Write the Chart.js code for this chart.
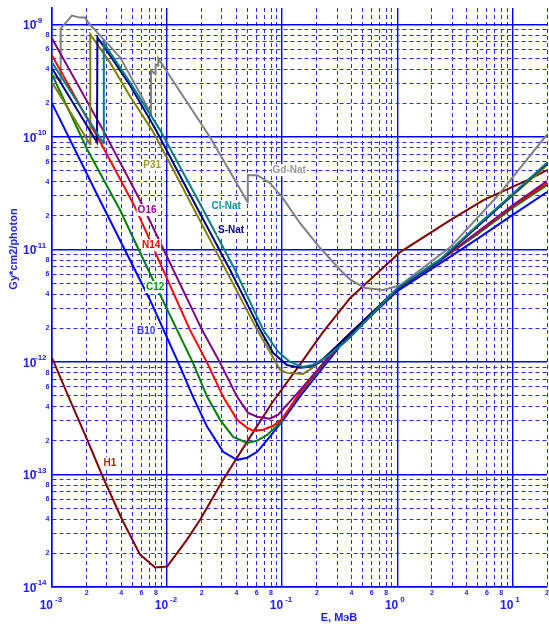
<!DOCTYPE html>
<html><head><meta charset="utf-8">
<script src="https://cdn.jsdelivr.net/npm/chart.js@4.4.1/dist/chart.umd.min.js"></script>
<style>html,body{margin:0;padding:0;background:#fff}canvas{display:block}</style>
</head><body>
<canvas id="chart" width="549" height="624"></canvas>
<script>
// photon energy, MeV  /  dose per photon, Gy*cm2/photon
const h1E = [1e-3, 1.43e-3, 2.02e-3, 2.78e-3, 4.06e-3, 5.82e-3, 7.87e-3, 1.0e-2, 1.49e-2, 1.94e-2, 3.07e-2, 5.27e-2, 8.18e-2, 0.144, 0.227, 0.39, 1.06, 2.89, 5.6, 13.5, 20];
const h1V = [1.09e-12, 4.6e-13, 2.04e-13, 9.4e-14, 3.98e-14, 1.94e-14, 1.49e-14, 1.52e-14, 2.64e-14, 3.98e-14, 8.99e-14, 2.16e-13, 4.34e-13, 9.62e-13, 1.85e-12, 3.71e-12, 9.48e-12, 1.82e-11, 2.74e-11, 4.13e-11, 5.07e-11];

const b10E = [1e-3, 2.61e-3, 7.11e-3, 1.30e-2, 1.68e-2, 2.23e-2, 3.07e-2, 4.06e-2, 4.97e-2, 6.07e-2, 7.8e-2, 0.102, 0.144, 0.339, 1.0, 2.37, 4.97, 10, 20];
const b10V = [1.99e-10, 2.74e-11, 3.56e-12, 9.05e-13, 4.9e-13, 2.65e-13, 1.59e-13, 1.35e-13, 1.41e-13, 1.59e-13, 2.16e-13, 3.06e-13, 5.0e-13, 1.5e-12, 4.27e-12, 7.57e-12, 1.24e-11, 2.02e-11, 3.23e-11];

const c12E = [1e-3, 2.02e-3, 3.9e-3, 7.55e-3, 1.22e-2, 1.68e-2, 2.23e-2, 2.89e-2, 3.75e-2, 4.97e-2, 6.07e-2, 7.41e-2, 9.6e-2, 0.144, 0.339, 1.0, 2.37, 4.97, 10, 20];
const c12V = [3.6e-10, 7.78e-11, 2.24e-11, 5.35e-12, 1.93e-12, 9.82e-13, 4.9e-13, 3.06e-13, 2.16e-13, 1.91e-13, 2.0e-13, 2.25e-13, 2.88e-13, 5.32e-13, 1.57e-12, 4.45e-12, 8.05e-12, 1.37e-11, 2.33e-11, 3.73e-11];

const n14E = [1e-3, 2.78e-3, 5.27e-3, 1.58e-2, 2.23e-2, 3.07e-2, 4.06e-2, 4.97e-2, 5.58e-2, 6.84e-2, 8.36e-2, 0.1, 0.144, 0.339, 1.0, 2.37, 4.97, 10, 20];
const n14V = [5.31e-10, 8.1e-11, 2.38e-11, 1.93e-12, 9.82e-13, 4.9e-13, 3.06e-13, 2.6e-13, 2.45e-13, 2.5e-13, 2.71e-13, 3.13e-13, 5.43e-13, 1.57e-12, 4.45e-12, 8.05e-12, 1.4e-11, 2.4e-11, 3.88e-11];

const o16E = [1e-3, 2.78e-3, 5.82e-3, 2.01e-2, 2.89e-2, 4.06e-2, 5.06e-2, 6.07e-2, 7.8e-2, 9.23e-2, 0.110, 0.144, 0.339, 1.0, 2.37, 4.97, 10, 20];
const o16V = [7.51e-10, 1.15e-10, 2.74e-11, 1.93e-12, 9.82e-13, 4.9e-13, 3.53e-13, 3.26e-13, 3.13e-13, 3.4e-13, 4.16e-13, 5.65e-13, 1.57e-12, 4.45e-12, 8.05e-12, 1.43e-11, 2.45e-11, 4.05e-11];

const p31E = [1e-3, 2.14e-3, 2.15e-3, 3.19e-3, 4.76e-3, 7.41e-3, 1.08e-2, 2.37e-2, 6.07e-2, 9.6e-2, 0.110, 0.152, 0.183, 0.261, 0.339, 1.0, 2.37, 4.97, 10, 20];
const p31V = [3.06e-10, 8.6e-11, 8.15e-10, 4.6e-10, 2.3e-10, 1.15e-10, 5.61e-11, 1.21e-11, 1.93e-12, 8.5e-13, 8.0e-13, 7.83e-13, 8.86e-13, 1.19e-12, 1.57e-12, 4.45e-12, 8.05e-12, 1.6e-11, 3.0e-11, 5.61e-11];

const sE = [1e-3, 2.46e-3, 2.48e-3, 3.19e-3, 4.76e-3, 7.87e-3, 1.68e-2, 3.53e-2, 6.44e-2, 8.36e-2, 0.110, 0.144, 0.175, 0.213, 0.339, 1.0, 2.37, 4.97, 10, 20];
const sV = [4.07e-10, 8.97e-11, 7.67e-10, 5.31e-10, 2.88e-10, 1.19e-10, 2.74e-11, 6.56e-12, 1.93e-12, 1.2e-12, 9.4e-13, 8.87e-13, 9.05e-13, 1.0e-12, 1.57e-12, 4.45e-12, 8.05e-12, 1.6e-11, 3.07e-11, 5.83e-11];

const clE = [1e-3, 2.80e-3, 2.82e-3, 3.19e-3, 4.76e-3, 8.69e-3, 1.86e-2, 3.9e-2, 6.84e-2, 9.23e-2, 0.117, 0.152, 0.185, 0.244, 0.37, 1.0, 2.37, 4.97, 10, 20];
const clV = [4.6e-10, 8.8e-11, 6.92e-10, 5.64e-10, 3.06e-10, 1.15e-10, 2.74e-11, 6.56e-12, 1.93e-12, 1.23e-12, 1.0e-12, 9.05e-13, 9.42e-13, 1.11e-12, 1.57e-12, 4.55e-12, 8.2e-12, 1.64e-11, 3.1e-11, 5.9e-11];

const gdE = [1e-3, 1.185e-3, 1.19e-3, 1.49e-3, 1.75e-3, 1.94e-3, 2.06e-3, 2.61e-3, 3.9e-3, 5.82e-3, 7.24e-3, 7.25e-3, 7.93e-3, 7.94e-3, 8.38e-3, 8.39e-3, 8.7e-3, 2.37e-2, 5.02e-2, 5.03e-2, 6.07e-2, 7.8e-2, 0.1, 0.143, 0.214, 0.318, 0.39, 0.527, 0.756, 1.06, 2.89, 7.4, 20];
const gdV = [3.53e-10, 3.18e-10, 9.2e-10, 1.2e-9, 1.15e-9, 1.15e-9, 1.04e-9, 8.0e-10, 5.1e-10, 2.44e-10, 1.62e-10, 3.9e-10, 3.6e-10, 4.4e-10, 4.3e-10, 5.0e-10, 4.7e-10, 9.9e-11, 2.63e-11, 4.57e-11, 4.57e-11, 3.9e-11, 2.92e-11, 1.71e-11, 1.03e-11, 6.6e-12, 5.4e-12, 4.54e-12, 4.36e-12, 4.8e-12, 1.05e-11, 2.97e-11, 1.05e-10];

// curve names, colours and where their names sit (E, value)
const names  = ['Cl-Nat', 'S-Nat', 'P31', 'O16', 'N14', 'C12', 'B10', 'Gd-Nat', 'H1'];
const colors = ['#008080', '#000080', '#808000', '#800080', '#ff0000', '#008000', '#0000ff', '#808080', '#800000'];
const textColors = ['#009999', '#000099', '#999933', '#990099', '#ff0000', '#009900', '#3333ff', '#999999', '#993300'];
const labelE = [3.26e-2, 3.6e-2, 7.41e-3, 6.7e-3, 7.26e-3, 7.87e-3, 6.57e-3, 0.115, 3.19e-3];
const labelV = [2.43e-11, 1.49e-11, 5.6e-11, 2.24e-11, 1.09e-11, 4.64e-12, 1.89e-12, 5.07e-11, 1.27e-13];

// axes
const xDecades = [-3, -2, -1, 0, 1];
const yDecades = [-14, -13, -12, -11, -10, -9];
const minorMarks = [2, 4, 6, 8];
const xMin = 1e-3, xMax = 20, yMin = 1e-14, yMax = 1.4e-9;

const FONT = "'Liberation Sans', Arial, sans-serif";
const TXT = '#2020ff';

const allE = [clE, sE, p31E, o16E, n14E, c12E, b10E, gdE, h1E];
const allV = [clV, sV, p31V, o16V, n14V, c12V, b10V, gdV, h1V];

function logTicks(min, max) {
  const out = [];
  for (let n = Math.floor(Math.log10(min)); n <= Math.ceil(Math.log10(max)); n++)
    for (let m = 1; m <= 9; m++) {
      const v = m * Math.pow(10, n);
      if (v >= min * 0.9999 && v <= max * 1.0001) out.push({ value: v });
    }
  return out;
}
const isDecade = v => Math.abs(Math.log10(v) - Math.round(Math.log10(v))) < 1e-6;
const gridColor = c => (c.tick && isDecade(c.tick.value)) ? '#0000ff' : '#2a2aff';
const gridWidth = c => (c.tick && isDecade(c.tick.value)) ? 1.4 : 1;
const gridDash = c => (c.tick && !isDecade(c.tick.value)) ? [4, 3] : [];

const datasets = names.map((n, i) => ({
  label: n,
  data: allE[i].map((e, k) => ({ x: e, y: allV[i][k] })),
  showLine: true, borderColor: colors[i], backgroundColor: colors[i],
  borderWidth: 2, pointRadius: 0, fill: false, tension: 0
}));

const textPlugin = {
  id: 'texts',
  afterDatasetsDraw(chart) {
    const { ctx, scales: { x, y } } = chart;
    ctx.save();
    ctx.font = `bold 10px ${FONT}`;
    ctx.textAlign = 'center'; ctx.textBaseline = 'middle';
    names.forEach((n, i) => {
      const px = x.getPixelForValue(labelE[i]), py = y.getPixelForValue(labelV[i]);
      const w = ctx.measureText(n).width;
      ctx.fillStyle = '#fff';
      ctx.fillRect(px - w / 2 - 1, py - 6, w + 2, 12);
      ctx.fillStyle = textColors[i];
      ctx.fillText(n, px, py);
    });
    ctx.restore();
  },
  afterDraw(chart) {
    const { ctx, scales: { x, y } } = chart;
    ctx.save();
    ctx.fillStyle = TXT;
    // y axis
    yDecades.forEach(n => {
      const py = y.getPixelForValue(Math.pow(10, n));
      ctx.textAlign = 'left'; ctx.textBaseline = 'middle';
      ctx.font = `bold 12px ${FONT}`;
      ctx.fillText('10', 23, py + 1.5);
      ctx.font = `bold 8px ${FONT}`;
      ctx.fillText(String(n), 35, py - 4);
      if (n < -9) {
        ctx.textAlign = 'right';
        ctx.font = `bold 7px ${FONT}`;
        minorMarks.forEach(m => ctx.fillText(String(m), 49.5, y.getPixelForValue(m * Math.pow(10, n))));
      }
    });
    // x axis
    xDecades.forEach(n => {
      const px = x.getPixelForValue(Math.pow(10, n));
      ctx.textBaseline = 'middle';
      ctx.textAlign = 'right'; ctx.font = `bold 12px ${FONT}`;
      ctx.fillText('10', px + 1, 606);
      ctx.textAlign = 'left'; ctx.font = `bold 8px ${FONT}`;
      ctx.fillText(String(n), px + 3, 600);
      ctx.textAlign = 'center'; ctx.font = `bold 7px ${FONT}`;
      minorMarks.forEach(m => {
        const v = m * Math.pow(10, n);
        if (v <= xMax * 1.0001) ctx.fillText(String(m), x.getPixelForValue(v), 593);
      });
    });
    // titles
    ctx.font = `bold 11px ${FONT}`;
    ctx.textAlign = 'center'; ctx.textBaseline = 'middle';
    ctx.fillText('E, МэВ', 339, 618);
    ctx.translate(14, 249);
    ctx.rotate(-Math.PI / 2);
    ctx.fillText('Gy*cm2/photon', 0, 0);
    ctx.restore();
  }
};

new Chart(document.getElementById('chart'), {
  type: 'scatter',
  data: { datasets },
  options: {
    responsive: false, animation: false,
    layout: { padding: { left: 52, right: 2, top: 8, bottom: 37 } },
    plugins: { legend: { display: false }, tooltip: { enabled: false } },
    scales: {
      x: {
        type: 'logarithmic', min: xMin, max: xMax, bounds: 'data',
        afterBuildTicks: s => { s.ticks = logTicks(xMin, xMax); },
        ticks: { display: false },
        grid: { drawTicks: false, color: gridColor, lineWidth: gridWidth },
        border: { display: true, color: '#0000ff', width: 1.5, dash: gridDash }
      },
      y: {
        type: 'logarithmic', min: yMin, max: yMax, bounds: 'data',
        afterBuildTicks: s => { s.ticks = logTicks(yMin, yMax); },
        ticks: { display: false },
        grid: { drawTicks: false, color: gridColor, lineWidth: gridWidth },
        border: { display: true, color: '#0000ff', width: 1.5, dash: gridDash }
      }
    }
  },
  plugins: [textPlugin]
});
</script>
</body></html>
